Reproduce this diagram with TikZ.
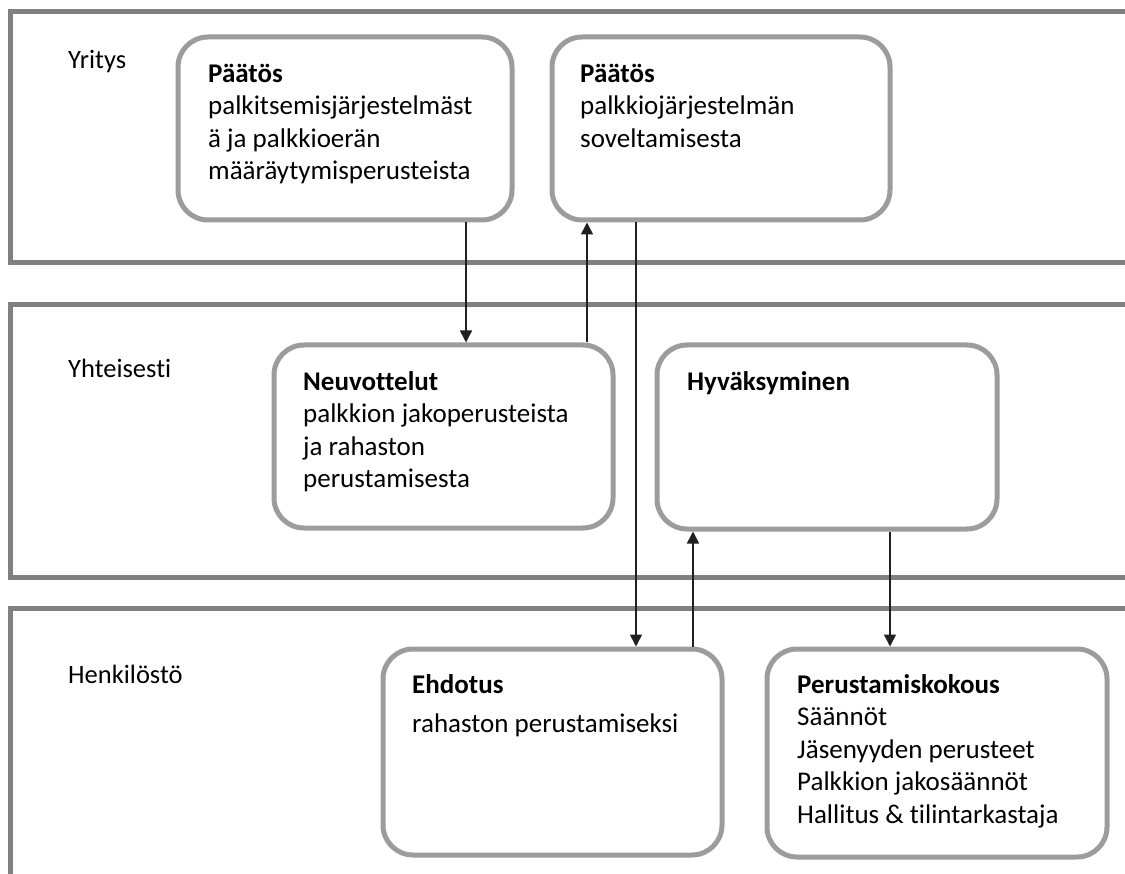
\documentclass[tikz,border=0pt]{standalone}
\usepackage{fontspec}
\setmainfont{Carlito}[Ligatures=NoCommon]
\usetikzlibrary{arrows.meta}
\definecolor{laneclr}{HTML}{808080}
\definecolor{boxclr}{HTML}{9C9C9C}
\definecolor{arrclr}{HTML}{202020}
\tikzset{
  lane/.style={draw=laneclr, line width=5pt},
  procbox/.style={draw=boxclr, line width=5pt, rounded corners=30pt, fill=white, inner sep=0pt},
  boxtext/.style={anchor=north west, inner sep=0pt, align=left, font=\fontsize{27}{32.5}\selectfont},
  lanelabel/.style={anchor=base west, inner sep=0pt, font=\fontsize{26.5}{30}\selectfont},
  arr/.style={draw=arrclr, line width=1.6pt, -{Triangle[width=12pt,length=12pt]}},
}
\begin{document}
\begin{tikzpicture}[x=1pt,y=-1pt]
\useasboundingbox (0,0) rectangle (1125,874);
\clip (0,0) rectangle (1125,874);
\fill[white] (0,0) rectangle (1125,874);
% lanes
\draw[lane] (1140,12) -- (10,12) -- (10,263) -- (1140,263);
\draw[lane] (1140,305) -- (10,305) -- (10,577) -- (1140,577);
\draw[lane] (1140,608) -- (10,608) -- (10,900);
\node[lanelabel] (l1) at (68,69) {Yritys};
\node[lanelabel] (l2) at (68,378) {Yhteisesti};
\node[lanelabel] (l3) at (68,683) {Henkilöstö};
% boxes
\node[procbox, minimum width=334pt, minimum height=183pt] (b1) at (345,128.5) {};
\node[procbox, minimum width=338pt, minimum height=183pt] (b2) at (721,128.5) {};
\node[procbox, minimum width=339pt, minimum height=183pt] (neuv) at (443.5,436.5) {};
\node[procbox, minimum width=340pt, minimum height=184pt] (hyv) at (827,437) {};
\node[procbox, minimum width=339pt, minimum height=206pt] (ehd) at (552.5,752) {};
\node[procbox, minimum width=340pt, minimum height=208pt] (perus) at (937,753) {};
% texts
\node[boxtext] (t1) at (208,59.25) {\strut\textbf{Päätös}\\palkitsemisjärjestelmäst\\ä ja palkkioerän\\määräytymisperusteista};
\node[boxtext] (t2) at (580,59.25) {\strut\textbf{Päätös}\\palkkiojärjestelmän\\soveltamisesta};
\node[boxtext] (t3) at (303,367.25) {\strut\textbf{Neuvottelut}\\palkkion jakoperusteista\\ja rahaston\\perustamisesta};
\node[boxtext] (t4) at (687,367.25) {\strut\textbf{Hyväksyminen}};
\node[boxtext] (t5) at (412,670.25) {\strut\textbf{Ehdotus}\\[6.5pt]rahaston perustamiseksi};
\node[boxtext] (t6) at (797,670.25) {\strut\textbf{Perustamiskokous}\\Säännöt\\Jäsenyyden perusteet\\Palkkion jakosäännöt\\Hallitus \& tilintarkastaja};
% connector x positions
\coordinate (x1) at (466,0);
\coordinate (x2) at (587,0);
\coordinate (x3) at (636,0);
\coordinate (x4) at (693,0);
\coordinate (x5) at (890,0);
\draw[arr] (b1.south -| x1) -- (neuv.north -| x1);
\draw[arr] (neuv.north -| x2) -- (b2.south -| x2);
\draw[arr] (b2.south -| x3) -- (ehd.north -| x3);
\draw[arr] (ehd.north -| x4) -- (hyv.south -| x4);
\draw[arr] (hyv.south -| x5) -- (perus.north -| x5);
\end{tikzpicture}
\end{document}
